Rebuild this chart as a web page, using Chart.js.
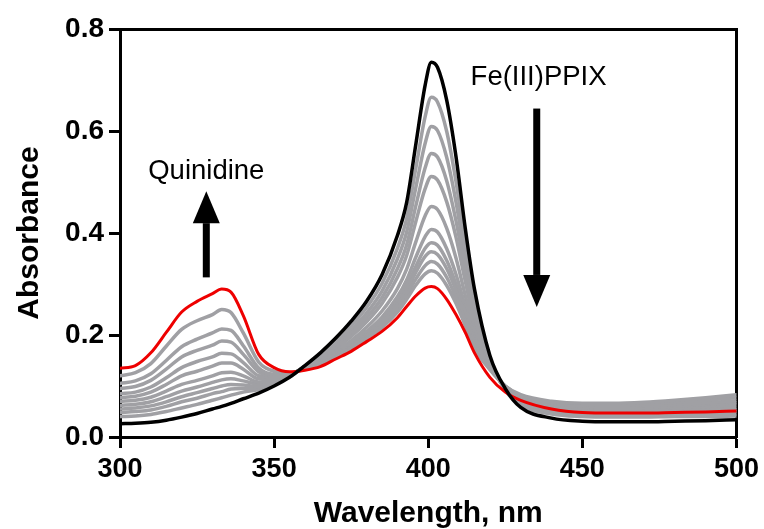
<!DOCTYPE html>
<html>
<head>
<meta charset="utf-8">
<script src="https://cdn.jsdelivr.net/npm/chart.js@4.4.1/dist/chart.umd.min.js"></script>
<style>
  html, body { margin: 0; padding: 0; background: #ffffff; }
  #wrap { width: 764px; height: 529px; }
</style>
</head>
<body>
<div id="wrap"><canvas id="c" width="764" height="529"></canvas></div>
<script>
// ---- data ----
const wavelength = [300,305,310,315,320,325,330,333,336,340,345,350,355,360,365,370,375,380,385,390,393,396,399,401,403,406,409,412,415,420,425,430,440,450,460,470,480,490,500];

// Fe(III)PPIX alone (black)
const absFePPIX = [0.026,0.027,0.029,0.033,0.039,0.046,0.055,0.060,0.066,0.075,0.086,0.100,0.117,0.140,0.165,0.194,0.227,0.266,0.318,0.395,0.460,0.575,0.690,0.735,0.725,0.660,0.550,0.410,0.290,0.160,0.095,0.058,0.037,0.031,0.030,0.030,0.031,0.032,0.034];

// final titration point (red)
const absFinal = [0.135,0.140,0.165,0.205,0.245,0.266,0.281,0.290,0.284,0.238,0.162,0.136,0.128,0.131,0.138,0.153,0.168,0.187,0.207,0.234,0.256,0.277,0.292,0.295,0.291,0.270,0.240,0.205,0.165,0.117,0.088,0.072,0.055,0.048,0.047,0.047,0.048,0.049,0.051];

// intermediate titration steps (grey)
const absStep1 = [0.040,0.041,0.044,0.050,0.057,0.064,0.072,0.077,0.082,0.088,0.093,0.104,0.118,0.139,0.161,0.188,0.218,0.254,0.301,0.370,0.428,0.528,0.628,0.666,0.657,0.599,0.501,0.378,0.270,0.155,0.092,0.062,0.045,0.040,0.039,0.039,0.040,0.040,0.041];
const absStep2 = [0.048,0.050,0.053,0.060,0.069,0.076,0.085,0.089,0.094,0.095,0.096,0.106,0.119,0.139,0.157,0.182,0.210,0.243,0.286,0.349,0.402,0.490,0.576,0.609,0.601,0.548,0.461,0.351,0.254,0.152,0.093,0.065,0.048,0.043,0.042,0.042,0.043,0.044,0.045];
const absStep3 = [0.055,0.057,0.061,0.069,0.079,0.087,0.095,0.100,0.103,0.102,0.099,0.107,0.120,0.138,0.154,0.177,0.203,0.234,0.273,0.330,0.377,0.454,0.528,0.556,0.549,0.502,0.424,0.327,0.239,0.149,0.094,0.068,0.051,0.046,0.045,0.045,0.047,0.048,0.050];
const absStep4 = [0.062,0.064,0.069,0.079,0.090,0.098,0.107,0.112,0.114,0.110,0.104,0.109,0.120,0.138,0.151,0.173,0.197,0.226,0.262,0.313,0.356,0.423,0.487,0.511,0.504,0.461,0.392,0.306,0.226,0.146,0.095,0.070,0.054,0.049,0.048,0.049,0.050,0.052,0.054];
const absStep5 = [0.070,0.072,0.078,0.090,0.103,0.111,0.120,0.126,0.127,0.120,0.108,0.111,0.121,0.137,0.148,0.168,0.189,0.215,0.247,0.291,0.329,0.383,0.434,0.452,0.446,0.409,0.351,0.278,0.210,0.143,0.096,0.073,0.057,0.052,0.051,0.052,0.054,0.056,0.058];
const absStep6 = [0.077,0.080,0.088,0.103,0.120,0.129,0.139,0.145,0.145,0.133,0.114,0.114,0.122,0.136,0.145,0.163,0.183,0.207,0.235,0.275,0.308,0.353,0.393,0.407,0.402,0.369,0.319,0.257,0.197,0.140,0.097,0.075,0.060,0.055,0.054,0.055,0.057,0.060,0.063];
const absStep7 = [0.085,0.088,0.098,0.116,0.136,0.148,0.157,0.164,0.163,0.146,0.120,0.117,0.123,0.135,0.143,0.161,0.179,0.202,0.229,0.265,0.296,0.335,0.370,0.381,0.376,0.346,0.300,0.245,0.189,0.138,0.098,0.077,0.063,0.058,0.057,0.058,0.061,0.064,0.067];
const absStep8 = [0.095,0.099,0.111,0.133,0.157,0.170,0.180,0.188,0.186,0.162,0.128,0.120,0.123,0.135,0.142,0.159,0.177,0.199,0.224,0.259,0.288,0.323,0.354,0.363,0.358,0.330,0.288,0.237,0.184,0.136,0.099,0.079,0.066,0.061,0.060,0.061,0.064,0.067,0.071];
const absStep9 = [0.105,0.110,0.124,0.150,0.177,0.192,0.204,0.212,0.209,0.179,0.135,0.123,0.124,0.134,0.141,0.158,0.175,0.196,0.219,0.252,0.279,0.310,0.336,0.344,0.339,0.313,0.274,0.228,0.179,0.134,0.100,0.081,0.068,0.064,0.063,0.064,0.068,0.072,0.077];
const absStep10 = [0.120,0.126,0.144,0.178,0.211,0.228,0.240,0.250,0.244,0.204,0.147,0.129,0.126,0.133,0.140,0.156,0.172,0.193,0.215,0.245,0.270,0.298,0.320,0.326,0.321,0.297,0.262,0.219,0.174,0.132,0.100,0.083,0.070,0.066,0.066,0.068,0.072,0.077,0.083];

const greySteps = [absStep1,absStep2,absStep3,absStep4,absStep5,absStep6,absStep7,absStep8,absStep9,absStep10];

const xTicks = [300,350,400,450,500];
const yTicks = [0.0,0.2,0.4,0.6,0.8];

// ---- annotations (data units) ----
const labelQuin = { text: 'Quinidine', x: 328.0, y: 0.505 };
const labelFe = { text: 'Fe(III)PPIX', x: 435.8, y: 0.690 };
const arrowUp = { x: 328.0, from: 0.313, to: 0.482 };
const arrowDown = { x: 435.2, from: 0.644, to: 0.255 };

// ---- styles ----
const FONT = "'Liberation Sans', Arial, Helvetica, sans-serif";
const GREY = '#a0a0a4';
const RED = '#ee0000';

const toPts = arr => arr.map((v, i) => ({ x: wavelength[i], y: v }));

const datasets = [];
datasets.push({ data: toPts(absFePPIX), borderColor: '#000000', borderWidth: 3.5 });
datasets.push({ data: toPts(absFinal), borderColor: RED, borderWidth: 3 });
for (let k = greySteps.length - 1; k >= 0; k--) {
  datasets.push({ data: toPts(greySteps[k]), borderColor: GREY, borderWidth: 3.5 });
}
datasets.forEach(d => {
  d.pointRadius = 0;
  d.fill = false;
  d.cubicInterpolationMode = 'monotone';
  d.borderCapStyle = 'round';
  d.borderJoinStyle = 'round';
});

const annotate = {
  id: 'annotate',
  afterDatasetsDraw(chart) {
    const ctx = chart.ctx;
    const xs = chart.scales.x, ys = chart.scales.y;
    ctx.save();
    ctx.fillStyle = '#000';
    ctx.font = "27.5px " + FONT;
    ctx.textAlign = 'center';
    ctx.textBaseline = 'alphabetic';
    [labelQuin, labelFe].forEach(l => {
      ctx.fillText(l.text, xs.getPixelForValue(l.x), ys.getPixelForValue(l.y));
    });
    const headLen = 32, headHalf = 13.5, shaft = 7;
    [arrowUp, arrowDown].forEach(a => {
      const px = xs.getPixelForValue(a.x);
      const y0 = ys.getPixelForValue(a.from);
      const y1 = ys.getPixelForValue(a.to);
      const dir = y1 < y0 ? -1 : 1;
      const yb = y1 - dir * headLen;
      ctx.fillRect(px - shaft / 2, Math.min(y0, yb), shaft, Math.abs(yb - y0));
      ctx.beginPath();
      ctx.moveTo(px, y1);
      ctx.lineTo(px - headHalf, yb);
      ctx.lineTo(px + headHalf, yb);
      ctx.closePath();
      ctx.fill();
    });
    ctx.restore();
  }
};

const axisCommon = {
  border: { display: true, width: 3, color: '#000' },
  grid: { display: true, drawOnChartArea: false, drawTicks: true, tickLength: 11, tickWidth: 3, tickColor: '#000' }
};

new Chart(document.getElementById('c'), {
  type: 'line',
  data: { datasets },
  options: {
    responsive: false,
    animation: false,
    devicePixelRatio: 1,
    layout: { padding: { top: 29, right: 27, left: 0, bottom: 0 } },
    plugins: { legend: { display: false }, tooltip: { enabled: false } },
    scales: {
      x: {
        type: 'linear', position: 'bottom', min: 300, max: 500,
        afterBuildTicks(s) { s.ticks = xTicks.map(v => ({ value: v })); },
        ticks: { color: '#000', font: { family: FONT, size: 27, weight: 'bold' }, padding: 5, maxRotation: 0, autoSkip: false },
        ...axisCommon,
        title: { display: true, text: 'Wavelength, nm', color: '#000', font: { family: FONT, size: 30, weight: 'bold', lineHeight: 1 }, padding: { top: 0, bottom: 0 } },
        afterFit(s) { s.height = 92; }
      },
      y: {
        type: 'linear', position: 'left', min: 0, max: 0.8,
        afterBuildTicks(s) { s.ticks = yTicks.map(v => ({ value: v })); },
        ticks: { color: '#000', font: { family: FONT, size: 28, weight: 'bold' }, padding: 5, callback: v => Number(v).toFixed(1) },
        ...axisCommon,
        title: { display: true, text: 'Absorbance', color: '#000', font: { family: FONT, size: 30, weight: 'bold', lineHeight: 1 }, padding: { top: 15, bottom: 0 } },
        afterFit(s) { s.width = 120; }
      },
      xTop: {
        type: 'linear', position: 'top', min: 300, max: 500,
        ticks: { display: false }, grid: { display: false },
        border: { display: true, width: 3, color: '#000' },
        afterFit(s) { s.height = 0; }
      },
      yRight: {
        type: 'linear', position: 'right', min: 0, max: 0.8,
        ticks: { display: false }, grid: { display: false },
        border: { display: true, width: 3, color: '#000' },
        afterFit(s) { s.width = 0; }
      }
    }
  },
  plugins: [annotate]
});
</script>
</body>
</html>
